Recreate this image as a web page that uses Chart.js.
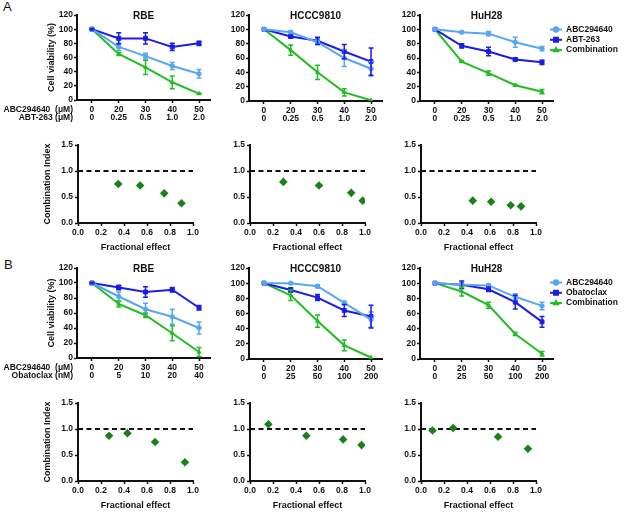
<!DOCTYPE html>
<html>
<head>
<meta charset="utf-8">
<script src="https://cdn.jsdelivr.net/npm/chart.js@4.4.1/dist/chart.umd.min.js"></script>
<style>
body { margin: 0; background: #fff; width: 625px; height: 515px; position: relative; overflow: hidden; font-family: "Liberation Sans", Arial, sans-serif; }
canvas { position: absolute; }
.panel { position: absolute; font-size: 13px; color: #111; }
</style>
</head>
<body>
<div class="panel" style="left:3px;top:-1px">A</div>
<div class="panel" style="left:4px;top:257px">B</div>
<script>
// ---- dose labels (x axis, two rows) ----
const doseABC = ['0', '20', '30', '40', '50'];
const doseABT = ['0', '0.25', '0.5', '1.0', '2.0'];
const doseObaRBE = ['0', '5', '10', '20', '40'];
const doseOba = ['0', '25', '50', '100', '200'];

// ---- A: ABC294640 + ABT-263, cell viability (%) ----
const aRbeABC = [100, 75, 62, 48, 37];       const aRbeABCErr = [1, 5, 4, 5, 6];
const aRbeABT = [100, 87, 87, 75, 80];       const aRbeABTErr = [1, 8, 8, 5, 3];
const aRbeComb = [100, 65, 46, 25, 9];       const aRbeCombErr = [0, 2, 10, 9, 1];

const aHcccABC = [100, 96, 82, 60, 45];      const aHcccABCErr = [0, 2, 3, 12, 10];
const aHcccABT = [100, 90, 84, 69, 55];      const aHcccABTErr = [0, 2, 5, 10, 19];
const aHcccComb = [100, 71, 40, 12, 1];      const aHcccCombErr = [0, 7, 10, 5, 0];

const aHuhABC = [100, 96, 94, 82, 73];       const aHuhABCErr = [0, 1, 3, 7, 3];
const aHuhABT = [100, 77, 69, 58, 54];       const aHuhABTErr = [0, 3, 6, 2, 3];
const aHuhComb = [100, 55, 39, 22, 13];      const aHuhCombErr = [0, 1, 3, 1, 3];

// ---- B: ABC294640 + Obatoclax, cell viability (%) ----
const bRbeABC = [100, 82, 65, 55, 40];       const bRbeABCErr = [0, 6, 8, 10, 8];
const bRbeOba = [100, 94, 88, 91, 67];       const bRbeObaErr = [1, 3, 7, 3, 3];
const bRbeComb = [100, 72, 57, 33, 8];       const bRbeCombErr = [0, 4, 3, 10, 6];

const bHcccABC = [100, 100, 96, 74, 52];     const bHcccABCErr = [0, 1, 2, 2, 10];
const bHcccOba = [100, 91, 81, 64, 56];      const bHcccObaErr = [0, 3, 4, 8, 15];
const bHcccComb = [100, 84, 50, 18, 2];      const bHcccCombErr = [0, 7, 8, 7, 0];

const bHuhABC = [100, 98, 97, 82, 70];       const bHuhABCErr = [0, 2, 2, 4, 5];
const bHuhOba = [100, 98, 92, 75, 49];       const bHuhObaErr = [0, 5, 3, 9, 7];
const bHuhComb = [100, 89, 71, 33, 7];       const bHuhCombErr = [0, 6, 4, 2, 3];

// ---- combination index vs fractional effect ----
const ciARbeFa = [0.35, 0.54, 0.75, 0.90];   const ciARbe = [0.75, 0.72, 0.57, 0.38];
const ciAHcccFa = [0.29, 0.60, 0.88, 0.98];  const ciAHccc = [0.79, 0.72, 0.58, 0.43];
const ciAHuhFa = [0.45, 0.61, 0.78, 0.87];   const ciAHuh = [0.43, 0.41, 0.34, 0.32];
const ciBRbeFa = [0.27, 0.43, 0.67, 0.93];   const ciBRbe = [0.87, 0.92, 0.75, 0.36];
const ciBHcccFa = [0.16, 0.49, 0.81, 0.97];  const ciBHccc = [1.09, 0.87, 0.80, 0.69];
const ciBHuhFa = [0.10, 0.28, 0.67, 0.93];   const ciBHuh = [0.97, 1.02, 0.85, 0.62];
const additivity = [{x: 0, y: 1}, {x: 1, y: 1}];

const cABC = '#58a6f2';
const cBlue = '#1c1ce6';
const cComb = '#22bd22';
const cCI = '#1b7f1b';
const ink = '#111';
const FONT = '"Liberation Sans", Arial, sans-serif';

Chart.defaults.font.family = FONT;
Chart.defaults.font.weight = 'bold';
Chart.defaults.font.size = 8.5;
Chart.defaults.color = ink;
Chart.defaults.animation = false;

function makeCanvas(left, top, w, h) {
    const c = document.createElement('canvas');
    c.style.left = left + 'px';
    c.style.top = top + 'px';
    c.width = w;
    c.height = h;
    c.style.width = w + 'px';
    c.style.height = h + 'px';
    document.body.appendChild(c);
    return c;
}

// error bars drawn through the y scale
const errorBars = {
    id: 'errorBars',
    afterDatasetsDraw(chart) {
        const ctx = chart.ctx;
        const ys = chart.scales.y;
        chart.data.datasets.forEach((ds, i) => {
            if (!ds.err) return;
            const meta = chart.getDatasetMeta(i);
            ctx.save();
            ctx.strokeStyle = ds.borderColor;
            ctx.lineWidth = 1.5;
            meta.data.forEach((pt, j) => {
                const e = ds.err[j];
                if (!e) return;
                const v = ds.data[j].y;
                const t = ys.getPixelForValue(v + e);
                const b = ys.getPixelForValue(v - e);
                ctx.beginPath();
                ctx.moveTo(pt.x, t); ctx.lineTo(pt.x, b);
                ctx.moveTo(pt.x - 2.5, t); ctx.lineTo(pt.x + 2.5, t);
                ctx.moveTo(pt.x - 2.5, b); ctx.lineTo(pt.x + 2.5, b);
                ctx.stroke();
            });
            ctx.restore();
        });
    }
};

const panelTitle = {
    id: 'panelTitle',
    afterDraw(chart, args, o) {
        if (!o.text) return;
        const {ctx, chartArea} = chart;
        ctx.save();
        ctx.font = 'bold 10px ' + FONT;
        ctx.fillStyle = ink;
        ctx.textAlign = 'center';
        ctx.textBaseline = 'middle';
        ctx.fillText(o.text, (chartArea.left + chartArea.right) / 2, chartArea.top + 1);
        ctx.restore();
    }
};

// the "ABC294640 (uM)" / second drug names beside the dose rows
const rowLabels = {
    id: 'rowLabels',
    afterDraw(chart, args, o) {
        if (!o.lines) return;
        const {ctx, chartArea} = chart;
        ctx.save();
        ctx.font = 'bold 8.5px ' + FONT;
        ctx.fillStyle = ink;
        ctx.textAlign = 'right';
        ctx.textBaseline = 'middle';
        o.lines.forEach((t, i) => ctx.fillText(t, chartArea.left - 4, chartArea.bottom + 9.5 + i * 8.5));
        ctx.restore();
    }
};

const sideLegend = {
    id: 'sideLegend',
    afterDraw(chart, args, o) {
        if (!o.show) return;
        const {ctx, chartArea} = chart;
        ctx.save();
        chart.data.datasets.forEach((ds, i) => {
            const x0 = chartArea.right - 3, y = chartArea.top + 14.5 + i * 10.3;
            ctx.strokeStyle = ds.borderColor;
            ctx.lineWidth = 2;
            ctx.beginPath();
            ctx.moveTo(x0, y); ctx.lineTo(x0 + 12, y);
            ctx.stroke();
            ctx.fillStyle = ds.borderColor;
            Chart.helpers.drawPoint(ctx, {pointStyle: ds.pointStyle, radius: ds.pointRadius, rotation: 0, borderWidth: 1}, x0 + 6, y);
            ctx.fillStyle = ink;
            ctx.font = 'bold 8.5px ' + FONT;
            ctx.textAlign = 'left';
            ctx.textBaseline = 'middle';
            ctx.fillText(ds.label, x0 + 16, y);
        });
        ctx.restore();
    }
};

function series(label, vals, err, color, style, r) {
    return {
        label: label,
        data: vals.map((v, i) => ({x: i, y: v})),
        err: err,
        borderColor: color,
        backgroundColor: color,
        borderWidth: 2,
        pointStyle: style,
        pointRadius: r,
        pointBorderWidth: 1,
        tension: 0
    };
}

function axisStyle() {
    return {
        grid: {drawOnChartArea: false, tickLength: 3, tickWidth: 1.5, tickColor: ink},
        border: {color: ink, width: 2}
    };
}

function viabilityChart(L, T, opt) {
    const W = 133, H = opt.H;
    const yW = opt.first ? L : 30;
    const pt = 12;
    const pr = opt.legend ? 625 - (L + W) : 8;
    const xH = 27;
    const cv = makeCanvas(L - yW, T - pt, yW + W + pr, pt + H + xH);
    const top = opt.top, bot = opt.bot;
    new Chart(cv, {
        type: 'line',
        data: {
            datasets: [
                series('ABC294640', opt.abc, opt.abcErr, cABC, 'circle', 2.2),
                series(opt.drug, opt.drugVals, opt.drugErr, cBlue, 'rect', 2.8),
                series('Combination', opt.comb, opt.combErr, cComb, 'triangle', 2.2)
            ]
        },
        options: {
            responsive: false,
            layout: {padding: {left: 0, top: pt, right: pr, bottom: 0}},
            plugins: {
                legend: {display: false},
                tooltip: {enabled: false},
                panelTitle: {text: opt.title},
                rowLabels: {lines: opt.first ? opt.rows : null},
                sideLegend: {show: opt.legend}
            },
            scales: {
                x: Object.assign(axisStyle(), {
                    type: 'linear', min: -0.56, max: 4.41,
                    afterBuildTicks: s => { s.ticks = [0, 1, 2, 3, 4].map(v => ({value: v})); },
                    afterFit: s => { s.height = xH; },
                    ticks: {
                        callback: v => [top[v], bot[v]],
                        padding: 2, maxRotation: 0, autoSkip: false,
                        font: {size: 8.5, lineHeight: 1.0}
                    }
                }),
                y: Object.assign(axisStyle(), {
                    min: 0, max: 120,
                    afterFit: s => { s.width = yW; },
                    ticks: {stepSize: 20, padding: 1},
                    title: {display: !!opt.first, text: 'Cell viability (%)', font: {size: 9}, padding: {top: 52 - 5.4, bottom: 0}}
                })
            }
        },
        plugins: [errorBars, panelTitle, rowLabels, sideLegend]
    });
}

function ciChart(L, T, fa, ci, first) {
    const W = 115, H = 78;
    const yW = first ? L : 30;
    const pt = 8, pr = 10, xH = 32;
    const cv = makeCanvas(L - yW, T - pt, yW + W + pr, pt + H + xH);
    new Chart(cv, {
        type: 'scatter',
        data: {
            datasets: [
                {
                    data: fa.map((x, i) => ({x: x, y: ci[i]})),
                    pointStyle: 'rectRot', pointRadius: 4.3,
                    backgroundColor: cCI, borderColor: cCI, borderWidth: 0
                },
                {
                    type: 'line',
                    data: additivity,
                    borderColor: ink, borderWidth: 2, borderDash: [5, 3.5],
                    pointRadius: 0
                }
            ]
        },
        options: {
            responsive: false,
            layout: {padding: {left: 0, top: pt, right: pr, bottom: 0}},
            plugins: {legend: {display: false}, tooltip: {enabled: false}},
            scales: {
                x: Object.assign(axisStyle(), {
                    type: 'linear', min: 0, max: 1,
                    afterBuildTicks: s => { s.ticks = [0, 0.2, 0.4, 0.6, 0.8, 1].map(v => ({value: v})); },
                    afterFit: s => { s.height = xH; },
                    ticks: {callback: v => v.toFixed(1), padding: 2, maxRotation: 0, autoSkip: false},
                    title: {display: true, text: 'Fractional effect', font: {size: 9}, padding: {top: 0, bottom: 2}}
                }),
                y: Object.assign(axisStyle(), {
                    min: 0, max: 1.5,
                    afterBuildTicks: s => { s.ticks = [0, 0.5, 1, 1.5].map(v => ({value: v})); },
                    afterFit: s => { s.width = yW; },
                    ticks: {callback: v => v.toFixed(1), padding: 2},
                    title: {display: first, text: 'Combination Index', font: {size: 9}, padding: {top: 48 - 5.4, bottom: 0}}
                })
            }
        }
    });
}

const cols = [77, 249, 420];

// row 1: panel A viability
viabilityChart(cols[0], 15, {first: true, title: 'RBE', H: 85, top: doseABC, bot: doseABT,
    rows: ['ABC294640  (\u03bcM)', 'ABT-263 (\u03bcM)'], drug: 'ABT-263',
    abc: aRbeABC, abcErr: aRbeABCErr, drugVals: aRbeABT, drugErr: aRbeABTErr, comb: aRbeComb, combErr: aRbeCombErr});
viabilityChart(cols[1], 15, {title: 'HCCC9810', H: 86, top: doseABC, bot: doseABT, drug: 'ABT-263',
    abc: aHcccABC, abcErr: aHcccABCErr, drugVals: aHcccABT, drugErr: aHcccABTErr, comb: aHcccComb, combErr: aHcccCombErr});
viabilityChart(cols[2], 15, {title: 'HuH28', H: 86, legend: true, top: doseABC, bot: doseABT, drug: 'ABT-263',
    abc: aHuhABC, abcErr: aHuhABCErr, drugVals: aHuhABT, drugErr: aHuhABTErr, comb: aHuhComb, combErr: aHuhCombErr});

// row 2: panel A combination index
ciChart(cols[0] + 1, 145, ciARbeFa, ciARbe, true);
ciChart(cols[1] + 1, 145, ciAHcccFa, ciAHccc, false);
ciChart(cols[2] + 1, 145, ciAHuhFa, ciAHuh, false);

// row 3: panel B viability
viabilityChart(cols[0], 268, {first: true, title: 'RBE', H: 90, top: doseABC, bot: doseObaRBE,
    rows: ['ABC294640  (\u03bcM)', 'Obatoclax (nM)'], drug: 'Obatoclax',
    abc: bRbeABC, abcErr: bRbeABCErr, drugVals: bRbeOba, drugErr: bRbeObaErr, comb: bRbeComb, combErr: bRbeCombErr});
viabilityChart(cols[1], 268, {title: 'HCCC9810', H: 91, top: doseABC, bot: doseOba, drug: 'Obatoclax',
    abc: bHcccABC, abcErr: bHcccABCErr, drugVals: bHcccOba, drugErr: bHcccObaErr, comb: bHcccComb, combErr: bHcccCombErr});
viabilityChart(cols[2], 268, {title: 'HuH28', H: 91, legend: true, top: doseABC, bot: doseOba, drug: 'Obatoclax',
    abc: bHuhABC, abcErr: bHuhABCErr, drugVals: bHuhOba, drugErr: bHuhObaErr, comb: bHuhComb, combErr: bHuhCombErr});

// row 4: panel B combination index
ciChart(cols[0] + 1, 403, ciBRbeFa, ciBRbe, true);
ciChart(cols[1] + 1, 403, ciBHcccFa, ciBHccc, false);
ciChart(cols[2] + 1, 403, ciBHuhFa, ciBHuh, false);
</script>
</body>
</html>
